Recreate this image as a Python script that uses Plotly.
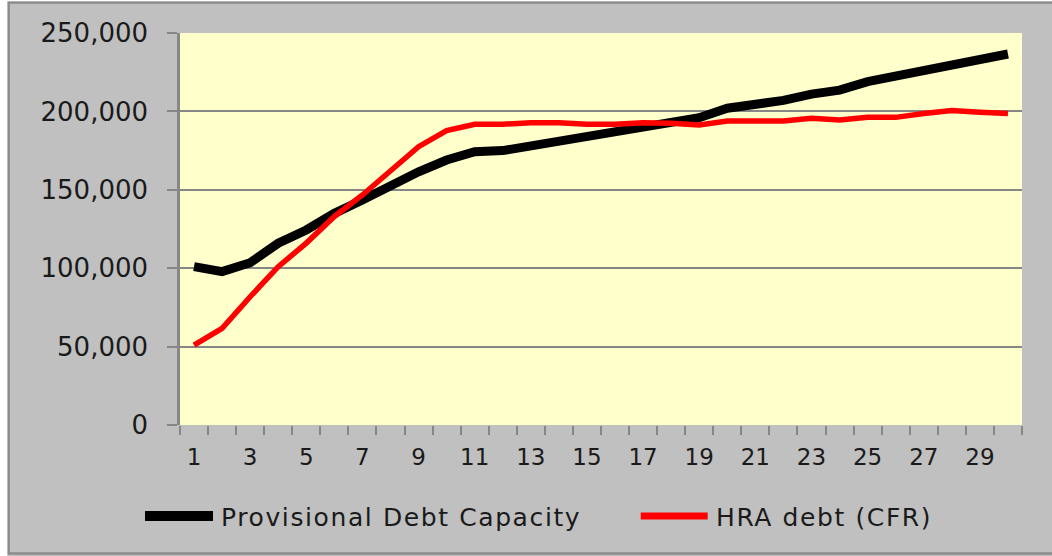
import plotly.graph_objects as go

periods = list(range(1, 31))
provisional_debt_capacity = [
    101000, 97800, 103500, 115900, 124400, 135000, 143500, 153000, 161500, 169000,
    174300, 175000, 178000, 180700, 183700, 187000, 190000, 193000, 196000, 202000,
    204000, 207000, 211000, 213600, 219000, 222600, 226000, 229600, 232000, 236600,
]
hra_debt_cfr = [
    51000, 61700, 81800, 101000, 116000, 133000, 146700, 162600, 177500, 187700,
    191800, 191800, 192800, 192800, 191800, 191800, 192800, 192400, 191300, 193900,
    193900, 193900, 195600, 194500, 196200, 196200, 198700, 200500, 199500, 198700,
]
series_names = ["Provisional Debt Capacity", "HRA debt (CFR)"]
x_tick_labels = [str(v) for v in range(1, 30, 2)]
y_tick_values = [0, 50000, 100000, 150000, 200000, 250000]
y_tick_labels = ["0", "50,000", "100,000", "150,000", "200,000", "250,000"]

W, H = 1052, 556
L, R, T, B = 180, 1022.5, 33, 425

def px(x):
    return (x - L) / (R - L)

def py(y):
    return (B - y) / (B - T)

fig = go.Figure()
fig.add_trace(go.Scatter(x=periods, y=provisional_debt_capacity, mode="lines",
                         name=series_names[0],
                         line=dict(color="#000000", width=9), showlegend=False))
fig.add_trace(go.Scatter(x=periods, y=hra_debt_cfr, mode="lines",
                         name=series_names[1],
                         line=dict(color="#ff0000", width=5.5), showlegend=False))

grid = "#868686"
txt = "#1a1a1a"
fig.update_xaxes(
    range=[0.5, 30.5], tickmode="array", tickvals=list(range(1, 30, 2)),
    ticktext=x_tick_labels, ticks="", showgrid=False, zeroline=False,
    showline=False,
    tickfont=dict(family="DejaVu Sans", size=23, color=txt),
    ticklabelstandoff=16,
    minor=dict(ticks="outside", tickmode="linear", tick0=0.5, dtick=1,
               ticklen=9, tickwidth=2, tickcolor=grid, showgrid=False),
)
fig.update_yaxes(
    range=[0, 250000], tickmode="array", tickvals=y_tick_values,
    ticktext=y_tick_labels, ticks="outside", ticklen=10, tickwidth=2,
    tickcolor=grid, showgrid=True, gridcolor=grid, gridwidth=2,
    zeroline=False, showline=True, linecolor=grid, linewidth=2.5,
    tickfont=dict(family="DejaVu Sans", size=26, color=txt),
    ticklabelstandoff=14,
)

shapes = [
    # outer chart border
    dict(type="rect", xref="paper", yref="paper",
         x0=px(8.5), x1=px(1060), y0=py(553.5), y1=py(2.5),
         line=dict(color="#8a8a8a", width=2.5), fillcolor="rgba(0,0,0,0)", layer="above"),
    # white strip on the left
    dict(type="rect", xref="paper", yref="paper",
         x0=px(-5), x1=px(7.2), y0=py(600), y1=py(-5),
         line=dict(width=0), fillcolor="#ffffff", layer="above"),
    # white strip on top
    dict(type="rect", xref="paper", yref="paper",
         x0=px(-5), x1=px(1060), y0=py(1.3), y1=py(-5),
         line=dict(width=0), fillcolor="#ffffff", layer="above"),
    # legend keys
    dict(type="line", xref="paper", yref="paper",
         x0=px(145), x1=px(213), y0=py(516), y1=py(516),
         line=dict(color="#000000", width=10), layer="above"),
    dict(type="line", xref="paper", yref="paper",
         x0=px(641), x1=px(708), y0=py(516), y1=py(516),
         line=dict(color="#ff0000", width=7), layer="above"),
]

annotations = [
    dict(xref="paper", yref="paper", x=px(219), y=py(517), xanchor="left",
         yanchor="middle", align="left", text=series_names[0], showarrow=False,
         font=dict(family="DejaVu Sans", size=25, color=txt)),
    dict(xref="paper", yref="paper", x=px(714), y=py(517), xanchor="left",
         yanchor="middle", align="left", text=series_names[1], showarrow=False,
         font=dict(family="DejaVu Sans", size=25, color=txt)),
]

fig.update_layout(
    width=W, height=H,
    margin=dict(l=L, r=W - R, t=T, b=H - B, pad=0),
    paper_bgcolor="#c0c0c0", plot_bgcolor="#ffffcc",
    shapes=shapes, annotations=annotations, showlegend=False,
)

post = (
    "document.body.style.margin='0';"
    "document.querySelectorAll('.annotation-text').forEach(function(e){"
    "e.style.letterSpacing='1.6px';});"
)
fig.write_html("out.html", config={"displayModeBar": False}, post_script=post)
